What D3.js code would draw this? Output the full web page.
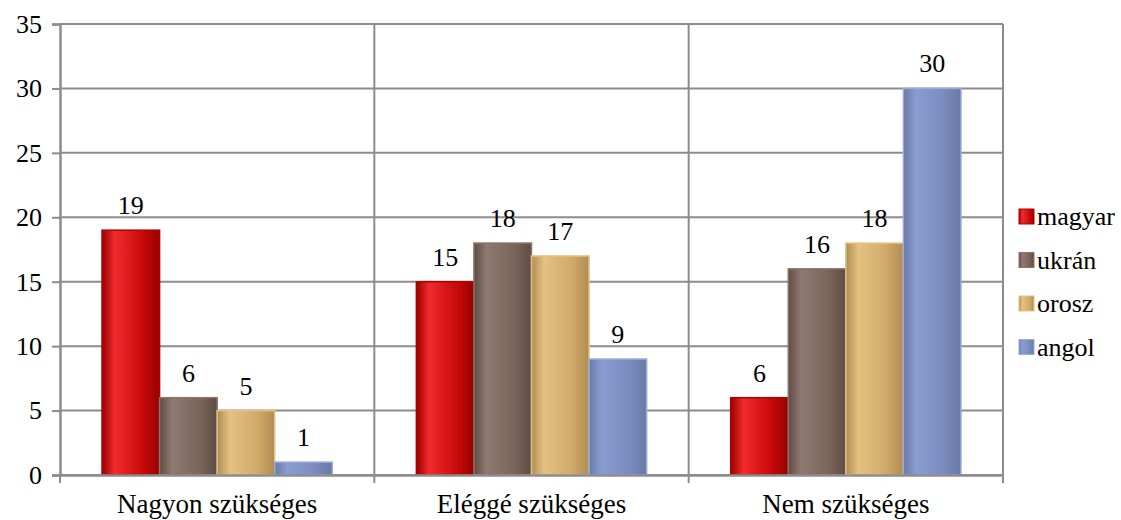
<!DOCTYPE html>
<html>
<head>
<meta charset="utf-8">
<script src="https://cdn.jsdelivr.net/npm/d3@7"></script>
<style>
  body { margin: 0; background: #fff; }
</style>
</head>
<body>
<svg width="1121" height="520"></svg>
<script>
// chart data
var categories = ["Nagyon szükséges", "Eléggé szükséges", "Nem szükséges"];
var seriesNames = ["magyar", "ukrán", "orosz", "angol"];
var magyar = [19, 15, 6];
var ukran = [6, 18, 16];
var orosz = [5, 17, 18];
var angol = [1, 9, 30];
var yTicks = [0, 5, 10, 15, 20, 25, 30, 35];

var seriesValues = [magyar, ukran, orosz, angol];
var colors = [
    {mid: "#c80a0a", light: "#f22a2e", dark: "#980000", edge: "#b00000"},
    {mid: "#7a655a", light: "#8f7a72", dark: "#5f4c44", edge: "#8a7468"},
    {mid: "#d0aa68", light: "#e4c282", dark: "#b08c54", edge: "#e2c48a"},
    {mid: "#7a8bbf", light: "#8a9dd2", dark: "#6a79a6", edge: "#9aabd6"}
];

var svg = d3.select("svg");
var margin = {left: 60, right: 118, top: 24, bottom: 45};
var width = 1121 - margin.left - margin.right;
var height = 520 - margin.top - margin.bottom;
var font = "'Liberation Serif'";
var fontSize = "26px";

var defs = svg.append("defs");
colors.forEach(function(c, i) {
    var grad = defs.append("linearGradient")
        .attr("id", "grad" + i)
        .attr("x1", "0%").attr("x2", "100%")
        .attr("y1", "0%").attr("y2", "0%");
    grad.append("stop").attr("offset", "0%").attr("stop-color", c.dark);
    grad.append("stop").attr("offset", "22%").attr("stop-color", c.light);
    grad.append("stop").attr("offset", "70%").attr("stop-color", c.mid);
    grad.append("stop").attr("offset", "100%").attr("stop-color", c.dark);
});

var g = svg.append("g")
    .attr("transform", "translate(" + margin.left + "," + margin.top + ")");

var x0 = d3.scaleBand()
    .domain(categories)
    .range([0, width])
    .paddingInner(0)
    .paddingOuter(0);

var x1 = d3.scaleBand()
    .domain(d3.range(seriesNames.length))
    .range([0, x0.bandwidth()])
    .paddingOuter(0.73)
    .paddingInner(0);

var y = d3.scaleLinear()
    .domain([0, 35])
    .range([height, 0]);

// horizontal gridlines
g.append("g")
    .selectAll("line")
    .data(yTicks)
    .enter().append("line")
    .attr("x1", 0)
    .attr("x2", width)
    .attr("y1", function(d) { return y(d); })
    .attr("y2", function(d) { return y(d); })
    .style("stroke", "#8c8c8c")
    .style("stroke-width", 2);

// vertical gridlines at category boundaries
g.append("g")
    .selectAll("line")
    .data(categories.slice(1).concat(["end"]))
    .enter().append("line")
    .attr("x1", function(d, i) { return x0.bandwidth() * (i + 1); })
    .attr("x2", function(d, i) { return x0.bandwidth() * (i + 1); })
    .attr("y1", 0)
    .attr("y2", height)
    .style("stroke", "#8c8c8c")
    .style("stroke-width", 2);

// bars
var groups = g.append("g")
    .selectAll("g")
    .data(categories)
    .enter().append("g")
    .attr("transform", function(d) { return "translate(" + x0(d) + ",0)"; });

groups.selectAll("rect")
    .data(function(d, ci) {
        return seriesValues.map(function(vals, si) { return {s: si, v: vals[ci]}; });
    })
    .enter().append("rect")
    .attr("x", function(d) { return x1(d.s); })
    .attr("y", function(d) { return y(d.v); })
    .attr("width", x1.bandwidth())
    .attr("height", function(d) { return height - y(d.v); })
    .style("fill", function(d) { return "url(#grad" + d.s + ")"; })
    .style("stroke", function(d) { return colors[d.s].edge; })
    .style("stroke-width", 1.5);

groups.selectAll("text")
    .data(function(d, ci) {
        return seriesValues.map(function(vals, si) { return {s: si, v: vals[ci]}; });
    })
    .enter().append("text")
    .attr("x", function(d) { return x1(d.s) + x1.bandwidth() / 2; })
    .attr("y", function(d) { return y(d.v) - 16; })
    .attr("text-anchor", "middle")
    .style("font-family", font)
    .style("font-size", fontSize)
    .text(function(d) { return d.v; });

// y axis
var yAxis = d3.axisLeft(y)
    .tickValues(yTicks)
    .tickSize(8)
    .tickPadding(10);

var ya = g.append("g").call(yAxis).attr("font-family", null);
ya.select(".domain").style("stroke", "#8c8c8c").style("stroke-width", 2.5);
ya.selectAll(".tick line").style("stroke", "#8c8c8c").style("stroke-width", 2);
ya.selectAll(".tick text")
    .style("font-size", fontSize)
    .style("font-family", font);

// x axis
var xa = g.append("g")
    .attr("transform", "translate(0," + height + ")")
    .call(d3.axisBottom(x0).tickSize(0).tickPadding(19))
    .attr("font-family", null);
xa.select(".domain").style("stroke", "#8c8c8c").style("stroke-width", 2.5);
xa.selectAll(".tick text")
    .style("font-size", "27px")
    .style("font-family", font);

// tick marks between categories
g.append("g")
    .selectAll("line")
    .data([0, 1, 2, 3])
    .enter().append("line")
    .attr("x1", function(d) { return d * x0.bandwidth(); })
    .attr("x2", function(d) { return d * x0.bandwidth(); })
    .attr("y1", height)
    .attr("y2", height + 8)
    .style("stroke", "#8c8c8c")
    .style("stroke-width", 2);

// legend
var legend = svg.append("g")
    .attr("transform", "translate(1019,209)");

var items = legend.selectAll("g")
    .data(seriesNames)
    .enter().append("g")
    .attr("transform", function(d, i) { return "translate(0," + (i * 43.5) + ")"; });

items.append("rect")
    .attr("width", 15)
    .attr("height", 15)
    .style("fill", function(d, i) { return "url(#grad" + i + ")"; })
    .style("stroke", function(d, i) { return colors[i].edge; })
    .style("stroke-width", 1);

items.append("text")
    .attr("x", 18)
    .attr("y", 16)
    .style("font-family", font)
    .style("font-size", fontSize)
    .text(function(d) { return d; });
</script>
</body>
</html>
